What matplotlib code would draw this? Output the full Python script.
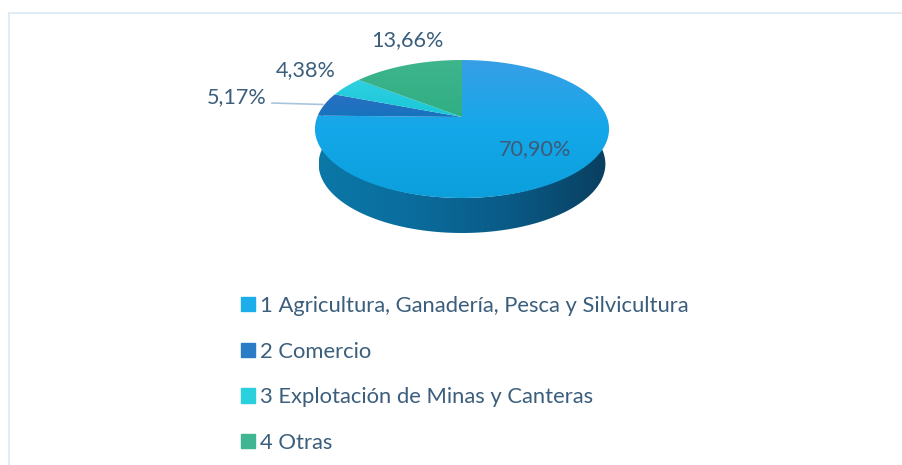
import numpy as np
import matplotlib
matplotlib.use('Agg')
import matplotlib.pyplot as plt
from matplotlib.colors import LinearSegmentedColormap
from matplotlib.patches import Patch, Polygon

labels = ['1 Agricultura, Ganadería, Pesca y Silvicultura', '2 Comercio',
          '3 Explotación de Minas y Canteras', '4 Otras']
values = [70.90, 5.17, 4.38, 13.66]
value_text = ['70,90%', '5,17%', '4,38%', '13,66%']
top_colors = [('#379fe6', '#14a8ea', '#0c9fdc'), ('#2a6fc4', '#1773bd'),
              ('#2fcfe0', '#18c8d8'), ('#3fb58c', '#2fae84')]
swatches = ['#1caeea', '#2a7cc6', '#2ad0de', '#3fb592']
side_colors = ['#0b78a8', '#0a6c9c', '#0a5a86', '#093f60']
text_color = '#3b5e7c'

plt.rcParams['font.family'] = ['Lato', 'DejaVu Sans']
fig = plt.figure(figsize=(9.03, 4.65), dpi=100)
ax = fig.add_axes([0, 0, 1, 1])

# pie in perspective, circle -> screen
cx, cy = 462, 117
a, b, w = 66.9, 144.8, 0.174
depth = 35


def project(theta):
    u, v = np.sin(theta), np.cos(theta)
    return cx + b * u / (1 + w * v), cy - a * v / (1 + w * v)


def fill_gradient(poly, cmap, horizontal=False):
    xs, ys = poly[:, 0], poly[:, 1]
    grad = np.linspace(0, 1, 256)
    grad = grad.reshape(1, -1) if horizontal else grad.reshape(-1, 1)
    im = ax.imshow(grad, cmap=cmap, aspect='auto', interpolation='bilinear',
                   extent=[xs.min(), xs.max(), ys.max(), ys.min()], zorder=2)
    patch = Polygon(poly, closed=True, transform=ax.transData, fc='none', ec='none')
    ax.add_patch(patch)
    im.set_clip_path(patch)


# side of the pie, a bit narrower than the top face
th = np.linspace(np.pi / 2 - 0.08, 3 * np.pi / 2 + 0.08, 300)
ex, ey = project(th)
ex = cx + (ex - cx) * 0.975
side = np.vstack([np.column_stack([ex, ey]),
                  np.column_stack([ex[::-1], ey[::-1] + depth])])
fill_gradient(side, LinearSegmentedColormap.from_list('side', side_colors), horizontal=True)

# top face, slices run clockwise from 12 o'clock
edges = np.cumsum([0] + values) / sum(values) * 2 * np.pi
for i in range(len(values)):
    t = np.linspace(edges[i], edges[i + 1], 200)
    x, y = project(t)
    poly = np.column_stack([np.r_[cx, x], np.r_[cy, y]])
    cmap = LinearSegmentedColormap.from_list('c%d' % i, top_colors[i])
    fill_gradient(poly, cmap)

# leader line
ax.plot([272, 323], [103, 104.5], color='#a9c4dc', lw=1.2, zorder=3)

# value labels
ax.text(535, 149, value_text[0], fontsize=15.6, color='#3f5a78', ha='center', va='center', zorder=4)
ax.text(237, 97, value_text[1], fontsize=15.6, color=text_color, ha='center', va='center')
ax.text(306, 70, value_text[2], fontsize=15.6, color=text_color, ha='center', va='center')
ax.text(407, 40, value_text[3], fontsize=15.6, color=text_color, ha='center', va='center')

# frame, only top and left are visible
ax.plot([9, 903], [13, 13], color='#deeaf3', lw=1.3)
ax.plot([9, 9], [13, 465], color='#deeaf3', lw=1.3)

handles = [Patch(color=c) for c in swatches]
ax.legend(handles, labels, loc='upper left', bbox_to_anchor=(241 / 903, 1 - 296 / 465),
          frameon=False, fontsize=15.85, labelcolor=text_color, handlelength=0.63,
          handleheight=0.63, handletextpad=0.22, labelspacing=1.16, borderpad=0, borderaxespad=0)

ax.set_xlim(0, 903)
ax.set_ylim(465, 0)
ax.axis('off')
fig.savefig('out.png', dpi=100)
